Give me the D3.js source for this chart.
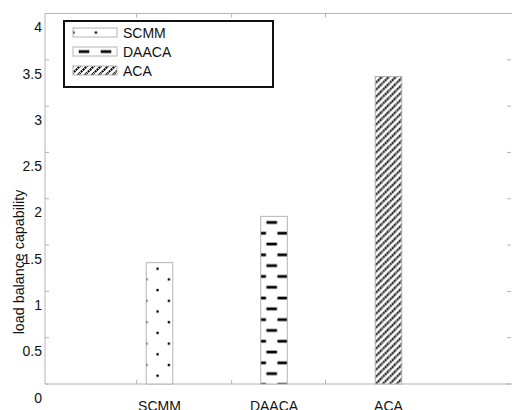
<!DOCTYPE html>
<html>
<head>
<meta charset="utf-8">
<script src="https://cdn.jsdelivr.net/npm/d3@7"></script>
<style>
html,body{margin:0;padding:0;background:#fff;}
svg{display:block;font-family:Arial,"Liberation Sans",sans-serif;}
</style>
</head>
<body>
<svg id="chart" width="512" height="410"></svg>
<script>
const categories = ["SCMM", "DAACA", "ACA"];
const positions = [1, 2, 3];
const values = [1.31, 1.81, 3.32];
const patterns = ["dots", "dashes", "hatch"];
const yTicks = [0, 0.5, 1, 1.5, 2, 2.5, 3, 3.5, 4];
const xTickMarks = [0.8, 1.63, 2.45];
const yLabel = "load balance capability";

const W = 512, H = 410;
const L = 45, R = 511, T = 13.5, B = 384;
const svg = d3.select("#chart");
const x = d3.scaleLinear().domain([0, 4.07]).range([L, R]);
const y = d3.scaleLinear().domain([0, 4]).range([B, T]);
const frame = "#b4b4b4";
const defs = svg.append("defs");

function makePattern(id, type, ox, oy) {
  if (type === "dots") {
    const p = defs.append("pattern").attr("id", id).attr("patternUnits", "userSpaceOnUse")
      .attr("x", ox).attr("y", oy).attr("width", 22.6).attr("height", 21.4);
    p.append("rect").attr("width", 22.6).attr("height", 21.4).attr("fill", "#fff");
    [[11.3, 0], [0, 10.7], [22.6, 10.7], [11.3, 21.4]].forEach(([a, b]) =>
      p.append("rect").attr("x", a - 1.1).attr("y", b - 1.1).attr("width", 2.3).attr("height", 2.3).attr("fill", "#000"));
  } else if (type === "dashes") {
    const p = defs.append("pattern").attr("id", id).attr("patternUnits", "userSpaceOnUse")
      .attr("x", ox).attr("y", oy).attr("width", 22).attr("height", 21.6);
    p.append("rect").attr("width", 22).attr("height", 21.6).attr("fill", "#fff");
    [[11, 0], [0, 10.8], [22, 10.8], [11, 21.6]].forEach(([a, b]) =>
      p.append("rect").attr("x", a - 5.3).attr("y", b - 1.3).attr("width", 10.6).attr("height", 2.8).attr("fill", "#000"));
  } else {
    const s = 7;
    const p = defs.append("pattern").attr("id", id).attr("patternUnits", "userSpaceOnUse")
      .attr("x", ox).attr("y", oy).attr("width", s).attr("height", s);
    p.append("rect").attr("width", s).attr("height", s).attr("fill", "#fff");
    p.append("path").attr("d", `M-1,${s+1}L${s+1},-1M-1,1L1,-1M${s-1},${s+1}L${s+1},${s-1}`)
      .attr("stroke", "#000").attr("stroke-width", 2.2).attr("stroke-dasharray", "2,0.7");
  }
}

// axes frame
const g = svg.append("g");
g.append("line").attr("x1", L).attr("x2", L).attr("y1", T).attr("y2", B).attr("stroke", frame);
g.append("line").attr("x1", L).attr("x2", W).attr("y1", B).attr("y2", B).attr("stroke", frame);
g.append("line").attr("x1", L).attr("x2", W).attr("y1", T).attr("y2", T).attr("stroke", frame);

// y ticks
yTicks.forEach(v => {
  g.append("line").attr("x1", L).attr("x2", L + 4).attr("y1", y(v)).attr("y2", y(v)).attr("stroke", frame);
  g.append("line").attr("x1", R - 4).attr("x2", R).attr("y1", y(v)).attr("y2", y(v)).attr("stroke", frame);
  g.append("text").attr("x", 42).attr("y", y(v) + 13.7).attr("text-anchor", "end")
    .attr("dominant-baseline", "central").attr("font-size", 14).attr("fill", "#111").text(d3.format("")(v));
});
// x ticks
xTickMarks.forEach(v => {
  g.append("line").attr("x1", x(v)).attr("x2", x(v)).attr("y1", B).attr("y2", B - 4).attr("stroke", frame);
  g.append("line").attr("x1", x(v)).attr("x2", x(v)).attr("y1", T).attr("y2", T + 4).attr("stroke", frame);
});

// bars
const bw = x(0.232) - x(0);
categories.forEach((c, i) => {
  const bx = x(positions[i]) - bw / 2;
  const by = y(values[i]);
  const id = "pat" + i;
  makePattern(id, patterns[i], bx, by + (patterns[i] === "hatch" ? 0 : 6));
  svg.append("rect").attr("x", bx).attr("y", by).attr("width", bw).attr("height", y(0) - by)
    .attr("fill", `url(#${id})`).attr("stroke", frame).attr("stroke-width", 1);
  svg.append("text").attr("x", x(positions[i])).attr("y", 411).attr("text-anchor", "middle")
    .attr("font-size", 14).attr("fill", "#111").text(c);
});

// y label
svg.append("text").attr("transform", "translate(24,262) rotate(-90)").attr("text-anchor", "middle")
  .attr("font-size", 14.3).attr("fill", "#111").text(yLabel);

// legend
const lg = svg.append("g");
lg.append("rect").attr("x", 64).attr("y", 21).attr("width", 209).attr("height", 66)
  .attr("fill", "#fff").attr("stroke", "#111").attr("stroke-width", 2);
categories.forEach((c, i) => {
  const sy = 28 + i * 19;
  const id = "lpat" + i;
  makePattern(id, patterns[i], patterns[i] === "hatch" ? 73 : 62, patterns[i] === "hatch" ? sy : sy + 4.5 - (patterns[i] === "dots" ? 0 : 10.8));
  lg.append("rect").attr("x", 73).attr("y", sy).attr("width", 44).attr("height", 9)
    .attr("fill", `url(#${id})`).attr("stroke", frame).attr("stroke-width", 1);
  lg.append("text").attr("x", 123).attr("y", sy + 5).attr("dominant-baseline", "central")
    .attr("font-size", 14).attr("fill", "#111").text(c);
});
</script>
</body>
</html>
